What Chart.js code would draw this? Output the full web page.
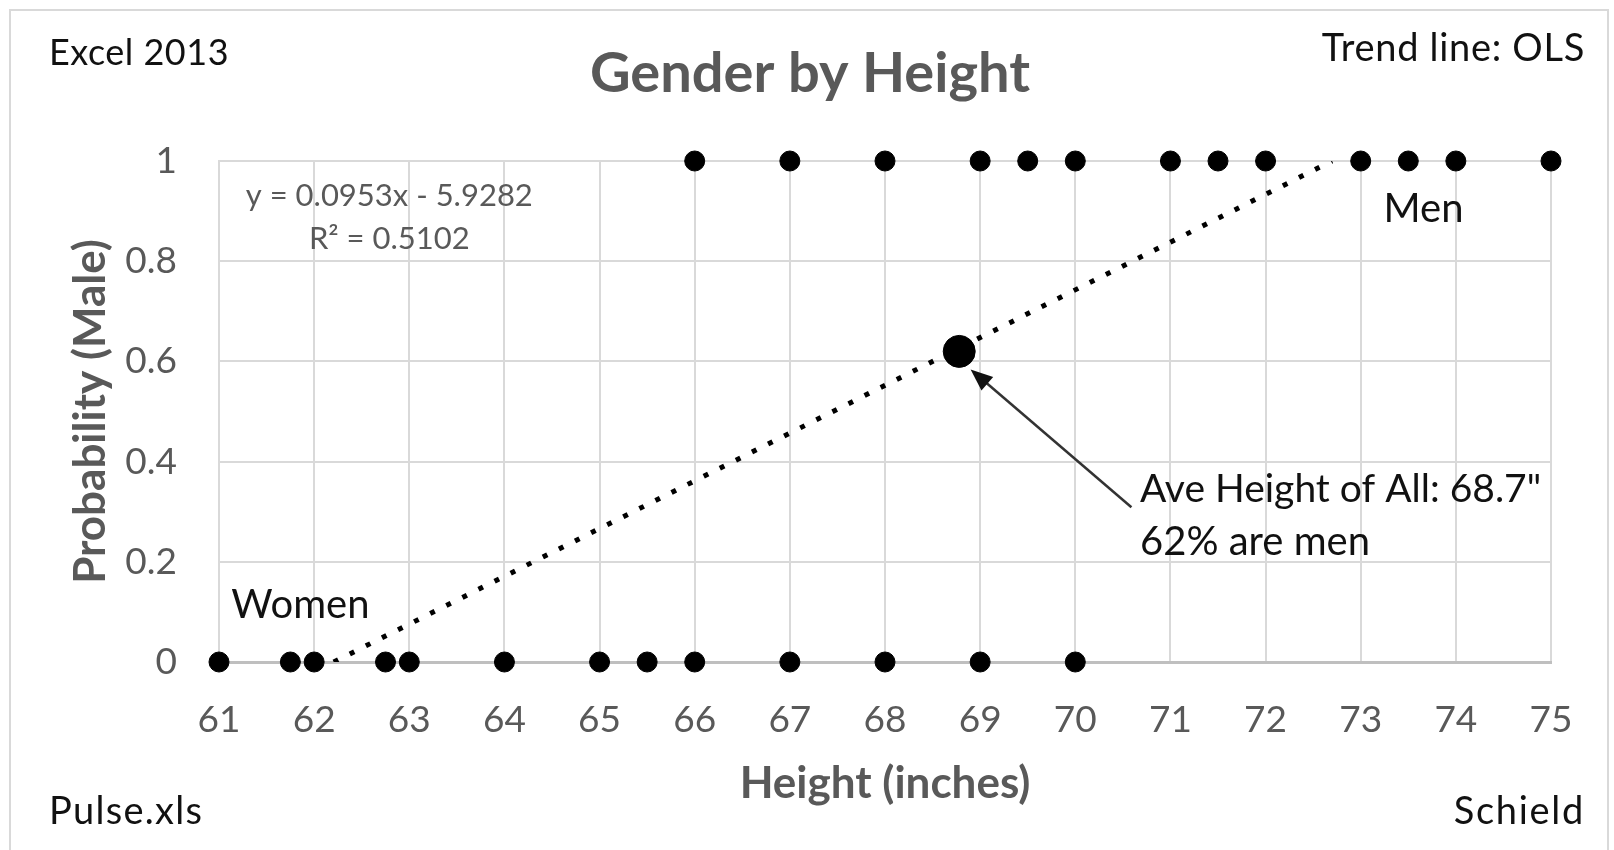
<!DOCTYPE html>
<html>
<head>
<meta charset="utf-8">
<script src="https://cdn.jsdelivr.net/npm/chart.js"></script>
<style>
  html, body { margin: 0; padding: 0; background: #fff; }
  #wrap { position: relative; width: 1614px; height: 850px; }
  #frame { position: absolute; left: 9px; top: 9px; width: 1600px; height: 860px;
           border: 2px solid #d9d9d9; box-sizing: border-box; pointer-events: none; }
</style>
</head>
<body>
<div id="wrap">
  <canvas id="genderChart" width="1614" height="850"></canvas>
  <div id="frame"></div>
</div>
<script>
    // data
    const femaleHeights = [61, 61.75, 62, 62.75, 63, 64, 65, 65.5, 66, 67, 68, 69, 70];
    const maleHeights = [66, 67, 68, 69, 69.5, 70, 71, 71.5, 72, 73, 73.5, 74, 75];
    const xTicks = [61, 62, 63, 64, 65, 66, 67, 68, 69, 70, 71, 72, 73, 74, 75];
    const yTicks = [0, 0.2, 0.4, 0.6, 0.8, 1];
    const trendSlope = 0.0953;
    const trendIntercept = -5.9282;
    const avgHeight = [68.78];
    const avgProb = [0.62];

    const points = femaleHeights.map(h => ({ x: h, y: 0 }))
        .concat(maleHeights.map(h => ({ x: h, y: 1 })));

    // OLS line, clipped to the 0..1 range of the axis
    const trendPoints = [
        { x: (0 - trendIntercept) / trendSlope, y: 0 },
        { x: (1 - trendIntercept) / trendSlope, y: 1 }
    ];

    const FONT = "Lato, 'Open Sans', sans-serif";
    const GREY = '#595959';

    const notes = {
        id: 'notes',
        afterDatasetsDraw(chart) {
            const c = chart.ctx;
            const xs = chart.scales.x, ys = chart.scales.y;
            const px = v => xs.getPixelForValue(v);
            const py = v => ys.getPixelForValue(v);
            c.save();
            c.textBaseline = 'middle';

            function txt(s, x, y, size, color, align, weight, spacing) {
                c.font = (weight || 'normal') + ' ' + size + 'px ' + FONT;
                c.letterSpacing = spacing || '0px';
                c.fillStyle = color;
                c.textAlign = align;
                c.fillText(s, x, y);
            }

            // title + corner notes
            txt('Gender by Height', 810, 74, 56, GREY, 'center', 'bold');
            txt('Excel 2013', 49, 53, 36, '#111', 'left', 'normal', '0.5px');
            txt('Trend line: OLS', 1585, 49, 38, '#111', 'right', 'normal', '0.7px');
            txt('Pulse.xls', 49, 812, 38, '#111', 'left', 'normal', '1.3px');
            txt('Schield', 1585, 812, 38, '#111', 'right', 'normal', '1.7px');

            // trend equation
            txt('y = 0.0953x - 5.9282', px(62.79), py(0.930), 31, GREY, 'center');
            txt('R\u00b2 = 0.5102', px(62.79), py(0.844), 31, GREY, 'center');

            txt('Men', px(73.66), py(0.905), 40, '#111', 'center');
            txt('Women', px(61.13), py(0.113), 40, '#111', 'left');

            txt('Ave Height of All: 68.7"', px(70.68), py(0.344), 39, '#111', 'left');
            txt('62% are men', px(70.68), py(0.239), 40, '#111', 'left');

            // arrow to the average point
            const x0 = px(70.59), y0 = py(0.309);
            const x1 = px(68.9), y1 = py(0.584);
            const a = Math.atan2(y1 - y0, x1 - x0);
            c.strokeStyle = '#333';
            c.fillStyle = '#111';
            c.lineWidth = 2.5;
            c.beginPath();
            c.moveTo(x0, y0);
            c.lineTo(x1 - 14 * Math.cos(a), y1 - 14 * Math.sin(a));
            c.stroke();
            c.beginPath();
            c.moveTo(x1, y1);
            c.lineTo(x1 - 22 * Math.cos(a) + 9 * Math.sin(a), y1 - 22 * Math.sin(a) - 9 * Math.cos(a));
            c.lineTo(x1 - 22 * Math.cos(a) - 9 * Math.sin(a), y1 - 22 * Math.sin(a) + 9 * Math.cos(a));
            c.closePath();
            c.fill();
            c.restore();
        }
    };

    const ctx = document.getElementById('genderChart').getContext('2d');

    new Chart(ctx, {
        type: 'scatter',
        data: {
            datasets: [{
                label: 'Gender',
                data: points,
                backgroundColor: '#000',
                borderColor: '#000',
                pointRadius: 10,
                pointHoverRadius: 10,
                clip: false,
                order: 1
            }, {
                label: 'Average',
                data: avgHeight.map((h, i) => ({ x: h, y: avgProb[i] })),
                backgroundColor: '#000',
                borderColor: '#000',
                pointRadius: 16,
                clip: false,
                order: 0
            }, {
                label: 'Linear trend',
                type: 'line',
                data: trendPoints,
                borderColor: '#000',
                borderWidth: 5,
                borderDash: [5, 13],
                pointRadius: 0,
                fill: false,
                order: 2
            }]
        },
        options: {
            responsive: false,
            animation: false,
            layout: { padding: { top: 161, right: 63, bottom: 0, left: 0 } },
            plugins: {
                legend: { display: false },
                title: { display: false },
                tooltip: { enabled: false }
            },
            scales: {
                x: {
                    type: 'linear',
                    min: 61,
                    max: 75,
                    afterFit: s => { s.height = 188; },
                    afterBuildTicks: s => { s.ticks = xTicks.map(v => ({ value: v })); },
                    grid: { color: '#d9d9d9', lineWidth: 2, drawTicks: false },
                    border: { color: '#bfbfbf', width: 3 },
                    ticks: { color: GREY, padding: 36, font: { family: FONT, size: 37 } },
                    title: {
                        display: true,
                        text: 'Height (inches)',
                        color: GREY,
                        padding: { top: 0, bottom: 40 },
                        font: { family: FONT, size: 44, weight: 'bold' }
                    }
                },
                y: {
                    min: 0,
                    max: 1,
                    afterFit: s => { s.width = 219; },
                    afterBuildTicks: s => { s.ticks = yTicks.map(v => ({ value: v })); },
                    grid: { color: '#d9d9d9', lineWidth: 2, drawTicks: false },
                    border: { color: '#d9d9d9', width: 2 },
                    ticks: {
                        color: GREY,
                        padding: 42,
                        font: { family: FONT, size: 37 },
                        callback: v => String(Math.round(v * 10) / 10)
                    },
                    title: {
                        display: true,
                        text: 'Probability (Male)',
                        color: GREY,
                        padding: { top: 64, bottom: 0 },
                        font: { family: FONT, size: 44, weight: 'bold' }
                    }
                }
            }
        },
        plugins: [notes]
    });
</script>
</body>
</html>
